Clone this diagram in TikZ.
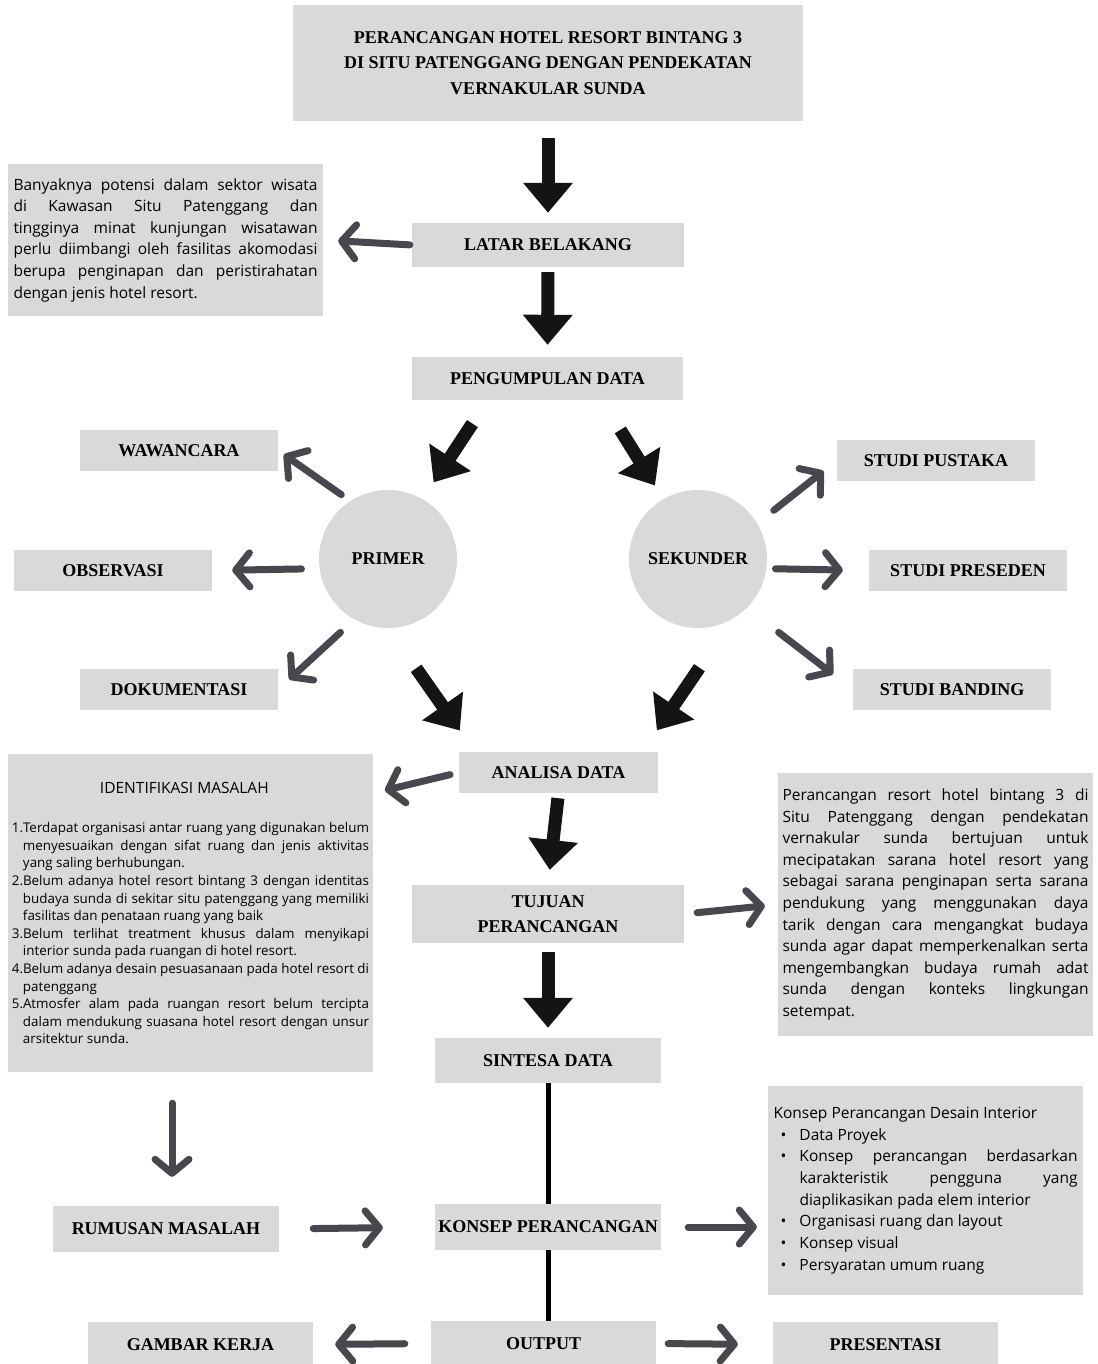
\documentclass[tikz,border=0pt]{standalone}
\usepackage{fontspec}
\setmainfont{Open Sans}
\newfontfamily\headfont{Liberation Serif}
\usetikzlibrary{arrows.meta,calc}
\definecolor{boxgray}{HTML}{D9D9D9}
\definecolor{arrowgray}{HTML}{48474D}
\begin{document}
\begin{tikzpicture}[x=1pt,y=-1pt,
  head/.style={fill=boxgray, inner sep=0pt, align=center,
    font=\headfont\bfseries\fontsize{18}{25.5}\selectfont},
  circ/.style={circle, fill=boxgray, minimum size=138pt, inner sep=0pt,
    font=\headfont\bfseries\fontsize{18}{25.5}\selectfont},
  body/.style={fill=boxgray, align=justify, inner ysep=0pt,
    font=\fontsize{15.5}{21.6}\selectfont},
  fat/.style={draw=black!92, line width=13pt, -{Triangle[length=30pt,width=48pt]}},
  garrow/.style={draw=arrowgray, line width=7pt, line cap=round, line join=round,
    -{Straight Barb[length=14pt,width=34pt,line cap=round,line join=round]}}
]
\useasboundingbox (0,0) rectangle (1097,1364);
\fill[white] (0,0) rectangle (1097,1364);

% heading boxes
\node[head, minimum width=510pt, minimum height=116pt] (title) at (548,63)
  {PERANCANGAN HOTEL RESORT BINTANG 3\\DI SITU PATENGGANG DENGAN PENDEKATAN\\VERNAKULAR SUNDA};
\node[head, minimum width=272pt, minimum height=44pt] (latar) at (548,245) {LATAR BELAKANG};
\node[head, minimum width=271pt, minimum height=43pt] (pengumpulan) at (547.5,378.5) {PENGUMPULAN DATA};
\node[head, minimum width=198pt, minimum height=41pt] (wawancara) at (179,450.5) {WAWANCARA};
\node[head, minimum width=198pt, minimum height=41pt] (observasi) at (113,570.5) {OBSERVASI};
\node[head, minimum width=198pt, minimum height=41pt] (dokumentasi) at (179,689.5) {DOKUMENTASI};
\node[head, minimum width=198pt, minimum height=41pt] (pustaka) at (936,460.5) {STUDI PUSTAKA};
\node[head, minimum width=198pt, minimum height=41pt] (preseden) at (968,570.5) {STUDI PRESEDEN};
\node[head, minimum width=198pt, minimum height=41pt] (banding) at (952,689.5) {STUDI BANDING};
\node[circ] (primer) at (388,559) {PRIMER};
\node[circ] (sekunder) at (698,559) {SEKUNDER};
\node[head, minimum width=199pt, minimum height=41pt] (analisa) at (558.5,772.5) {ANALISA DATA};
\node[head, minimum width=272pt, minimum height=58pt] (tujuan) at (548,914) {TUJUAN\\PERANCANGAN};
\node[head, minimum width=226pt, minimum height=45pt] (sintesa) at (548,1060.5) {SINTESA DATA};
\node[head, minimum width=226pt, minimum height=46pt] (rumusan) at (166,1229) {RUMUSAN MASALAH};
\node[head, minimum width=226pt, minimum height=46pt] (konsep) at (548,1227) {KONSEP PERANCANGAN};
\node[head, minimum width=225pt, minimum height=45pt] (output) at (543.5,1343.5) {OUTPUT};
\node[head, minimum width=225pt, minimum height=45pt] (gambar) at (200.5,1344.5) {GAMBAR KERJA};
\node[head, minimum width=225pt, minimum height=45pt] (presentasi) at (885.5,1344.5) {PRESENTASI};

% text boxes
\node[body, text width=304pt, inner xsep=5.5pt, minimum height=152pt] (latartext) at (165.5,240)
  {Banyaknya potensi dalam sektor wisata\linebreak
   di Kawasan Situ Patenggang dan\linebreak
   tingginya minat kunjungan wisatawan\linebreak
   perlu diimbangi oleh fasilitas akomodasi\linebreak
   berupa penginapan dan peristirahatan\linebreak
   dengan jenis hotel resort.};

\node[body, text width=357pt, inner xsep=4pt, minimum height=318pt] (ident) at (190.5,913)
  {\noindent\hspace*{88pt}IDENTIFIKASI MASALAH\par\vspace{22pt}
   \fontsize{13.4}{17.6}\selectfont
   \hangindent=11pt\hangafter=1\noindent\makebox[11pt][l]{1.}Terdapat organisasi antar ruang yang digunakan belum\linebreak
     menyesuaikan dengan sifat ruang dan jenis aktivitas\linebreak
     yang saling berhubungan.\par
   \hangindent=11pt\hangafter=1\noindent\makebox[11pt][l]{2.}Belum adanya hotel resort bintang 3 dengan identitas\linebreak
     budaya sunda di sekitar situ patenggang yang memiliki\linebreak
     fasilitas dan penataan ruang yang baik\par
   \hangindent=11pt\hangafter=1\noindent\makebox[11pt][l]{3.}Belum terlihat treatment khusus dalam menyikapi\linebreak
     interior sunda pada ruangan di hotel resort.\par
   \hangindent=11pt\hangafter=1\noindent\makebox[11pt][l]{4.}Belum adanya desain pesuasanaan pada hotel resort di\linebreak
     patenggang\par
   \hangindent=11pt\hangafter=1\noindent\makebox[11pt][l]{5.}Atmosfer alam pada ruangan resort belum tercipta\linebreak
     dalam mendukung suasana hotel resort dengan unsur\linebreak
     arsitektur sunda.\par};

\node[body, text width=306pt, inner xsep=4.5pt, minimum height=263pt] (ttext) at (935.5,904.5)
  {Perancangan resort hotel bintang 3 di\linebreak
   Situ Patenggang dengan pendekatan\linebreak
   vernakular sunda bertujuan untuk\linebreak
   mecipatakan sarana hotel resort yang\linebreak
   sebagai sarana penginapan serta sarana\linebreak
   pendukung yang menggunakan daya\linebreak
   tarik dengan cara mengangkat budaya\linebreak
   sunda agar dapat memperkenalkan serta\linebreak
   mengembangkan budaya rumah adat\linebreak
   sunda dengan konteks lingkungan\linebreak
   setempat.};

\node[body, text width=304pt, inner xsep=5.5pt, minimum height=209pt,
      font=\fontsize{15.5}{21.7}\selectfont] (ktext) at (925.5,1190.5)
  {\noindent Konsep Perancangan Desain Interior\par
   \hangindent=26pt\hangafter=1\noindent\makebox[26pt][l]{\hspace{7pt}•}Data Proyek\par
   \hangindent=26pt\hangafter=1\noindent\makebox[26pt][l]{\hspace{7pt}•}Konsep perancangan berdasarkan\linebreak
     karakteristik pengguna yang\linebreak
     diaplikasikan pada elem interior\par
   \hangindent=26pt\hangafter=1\noindent\makebox[26pt][l]{\hspace{7pt}•}Organisasi ruang dan layout\par
   \hangindent=26pt\hangafter=1\noindent\makebox[26pt][l]{\hspace{7pt}•}Konsep visual\par
   \hangindent=26pt\hangafter=1\noindent\makebox[26pt][l]{\hspace{7pt}•}Persyaratan umum ruang\par};

% black connecting line
\draw[line width=5pt] (sintesa.south) -- (konsep.north);
\draw[line width=5pt] (konsep.south) -- (konsep.south |- output.north);

% fat sketch arrows
\draw[fat, shorten <=17pt, shorten >=10pt] (title.south) -- (latar.north);
\draw[fat, shorten <=5pt, shorten >=12pt] (latar.south) -- (pengumpulan.north);
\draw[fat, shorten <=28pt, shorten >=20pt] ($(pengumpulan.south west)!0.28!(pengumpulan.south east)$) -- (primer.60);
\draw[fat, shorten <=35pt, shorten >=16pt] ($(pengumpulan.south west)!0.7!(pengumpulan.south east)$) -- (sekunder.120);
\draw[fat, shorten <=49pt, shorten >=26pt] (primer.south) -- ($(analisa.north west)!0.08!(analisa.north east)$);
\draw[fat, shorten <=59pt, shorten >=26pt] (sekunder.300) -- ($(analisa.north east)!0.08!(analisa.north west)$);
\draw[fat, shorten <=5pt, shorten >=15pt] (analisa.south) -- (tujuan.north);
\draw[fat, shorten <=9pt, shorten >=10pt] (tujuan.south) -- (sintesa.north);

% gray hand-drawn arrows
\draw[garrow, shorten <=2pt, shorten >=15pt] (latar.west) -- (latartext.east);
\draw[garrow, shorten <=11pt, shorten >=7pt] (primer.123) -- (wawancara.east);
\draw[garrow, shorten <=18pt, shorten >=20pt] (primer.188) -- (observasi.east);
\draw[garrow, shorten <=19pt, shorten >=15pt] (primer.241) -- (dokumentasi.east);
\draw[garrow, shorten <=21pt, shorten >=17pt] (sekunder.31) -- (pustaka.west);
\draw[garrow, shorten <=9pt, shorten >=26pt] (sekunder.352) -- (preseden.west);
\draw[garrow, shorten <=40pt, shorten >=25pt] (sekunder.315) -- (banding.west);
\draw[garrow, shorten <=9pt, shorten >=12pt] (analisa.west) -- (ident.north east |- analisa.south);
\draw[garrow, shorten <=13pt, shorten >=13pt] (tujuan.east) -- (ttext.west);
\draw[garrow, shorten <=31pt, shorten >=29pt] ([xshift=6pt]ident.south -| rumusan.north) -- ([xshift=6pt]rumusan.north);
\draw[garrow, shorten <=34pt, shorten >=52pt] (rumusan.east) -- (konsep.west);
\draw[garrow, shorten <=27pt, shorten >=11pt] (konsep.east) -- (konsep.east -| ktext.west);
\draw[garrow, shorten <=26pt, shorten >=22pt] (output.west) -- (gambar.east);
\draw[garrow, shorten <=12pt, shorten >=35pt] (output.east) -- (presentasi.west);
\end{tikzpicture}
\end{document}
